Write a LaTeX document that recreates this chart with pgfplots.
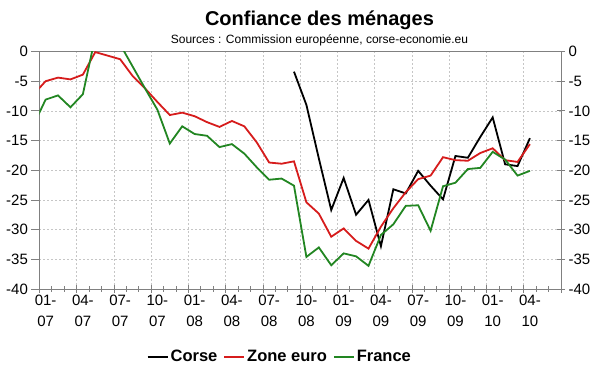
\documentclass[border=0pt]{standalone}
\usepackage{pgfplots}
\pgfplotsset{compat=1.18}
\usepackage{fontspec}
\setmainfont{Liberation Sans}
\definecolor{cred}{RGB}{214,28,28}
\definecolor{cgreen}{RGB}{34,134,34}
\definecolor{axgray}{RGB}{128,128,128}
\begin{document}
\begin{tikzpicture}
\useasboundingbox (0pt,0pt) rectangle (600pt,372pt);
\node[font=\bfseries\fontsize{20}{24}\selectfont] at (319.5pt,352pt) {Confiance des ménages};
\node[font=\fontsize{12}{14}\selectfont] at (319.5pt,332pt) {Sources : Commission européenne, corse-economie.eu};
\begin{axis}[
  at={(39.4pt,83pt)}, anchor=south west,
  scale only axis, width=521.6pt, height=237.5pt,
  xmin=-0.5, xmax=41.5, ymin=-40, ymax=0,
  axis line style={axgray, line width=0.8pt},
  /pgf/number format/assume math mode=true,
  ytick={-40,-35,...,0}, ytick pos=left, ytick align=outside,
  yticklabel style={font=\fontsize{15}{18}\selectfont},
  xtick={-0.5,2.5,...,41.5}, xticklabels={}, xtick pos=bottom,
  minor xtick={0.5,1.5,...,40.5},
  xtick align=center,
  major tick length=8pt, minor tick length=6pt,
  tick style={axgray, line width=0.8pt},
  extra x ticks={0,3,...,39},
  extra x tick labels={{01-\\07},{04-\\07},{07-\\07},{10-\\07},{01-\\08},{04-\\08},{07-\\08},{10-\\08},{01-\\09},{04-\\09},{07-\\09},{10-\\09},{01-\\10},{04-\\10}},
  extra x tick style={major tick length=0pt, grid=none, tick label style={align=center, font=\fontsize{15}{21}\selectfont, yshift=-2pt}},
  grid=major,
  major grid style={gray!45, dash pattern=on 2pt off 2pt, line width=0.6pt},
  legend columns=3,
  legend style={at={(0.461,-0.286)}, anchor=center, draw=none, fill=none,
    font=\bfseries\fontsize{16.5}{20}\selectfont,
    /tikz/every even column/.append style={column sep=4pt}},
  legend image code/.code={\draw[#1] (0pt,0pt) -- (20pt,0pt);},
]
\addplot[black, line width=1.8pt] coordinates {
(20,-3.4) (21,-9.0) (22,-18.0) (23,-26.7) (24,-21.3) (25,-27.5) (26,-25.0) (27,-32.8) (28,-23.2) (29,-23.9) (30,-20.1) (31,-22.6) (32,-24.9) (33,-17.6) (34,-17.9) (35,-14.4) (36,-11.1) (37,-19.0) (38,-19.3) (39,-14.6)
};
\addlegendentry{Corse}
\addplot[cred, line width=1.8pt] coordinates {
(-1,-7.3) (0,-5.0) (1,-4.4) (2,-4.7) (3,-3.9) (4,-0.1) (5,-0.7) (6,-1.3) (7,-4.1) (8,-6.2) (9,-8.5) (10,-10.7) (11,-10.3) (12,-10.9) (13,-11.9) (14,-12.7) (15,-11.7) (16,-12.6) (17,-15.3) (18,-18.7) (19,-18.9) (20,-18.5) (21,-25.4) (22,-27.3) (23,-31.2) (24,-29.8) (25,-31.9) (26,-33.2) (27,-29.5) (28,-26.4) (29,-23.7) (30,-21.5) (31,-20.9) (32,-17.8) (33,-18.3) (34,-18.4) (35,-17.1) (36,-16.3) (37,-18.3) (38,-18.6) (39,-15.6)
};
\addlegendentry{Zone euro}
\addplot[cgreen, line width=1.8pt] coordinates {
(-1,-12.5) (0,-8.1) (1,-7.4) (2,-9.4) (3,-7.2) (4,2.5) (5,2.0) (6,1.2) (7,-2.5) (8,-6.2) (9,-9.8) (10,-15.5) (11,-12.6) (12,-13.9) (13,-14.2) (14,-16.1) (15,-15.6) (16,-17.2) (17,-19.5) (18,-21.6) (19,-21.4) (20,-22.6) (21,-34.6) (22,-33.0) (23,-36.0) (24,-34.0) (25,-34.5) (26,-36.1) (27,-30.9) (28,-29.1) (29,-26.0) (30,-25.9) (31,-30.2) (32,-22.7) (33,-22.1) (34,-19.8) (35,-19.6) (36,-16.9) (37,-18.2) (38,-20.9) (39,-20.1)
};
\addlegendentry{France}
\end{axis}
\begin{axis}[
  at={(39.4pt,83pt)}, anchor=south west,
  scale only axis, width=521.6pt, height=237.5pt,
  xmin=-0.5, xmax=41.5, ymin=-40, ymax=0,
  axis x line=none, axis y line*=right,
  axis line style={axgray, line width=0.8pt},
  /pgf/number format/assume math mode=true,
  ytick={-40,-35,...,0}, ytick align=center,
  major tick length=8pt,
  tick style={axgray, line width=0.8pt},
  yticklabel style={font=\fontsize{15}{18}\selectfont},
]
\addplot[draw=none] coordinates {(0,-20)};
\end{axis}
\end{tikzpicture}
\end{document}
